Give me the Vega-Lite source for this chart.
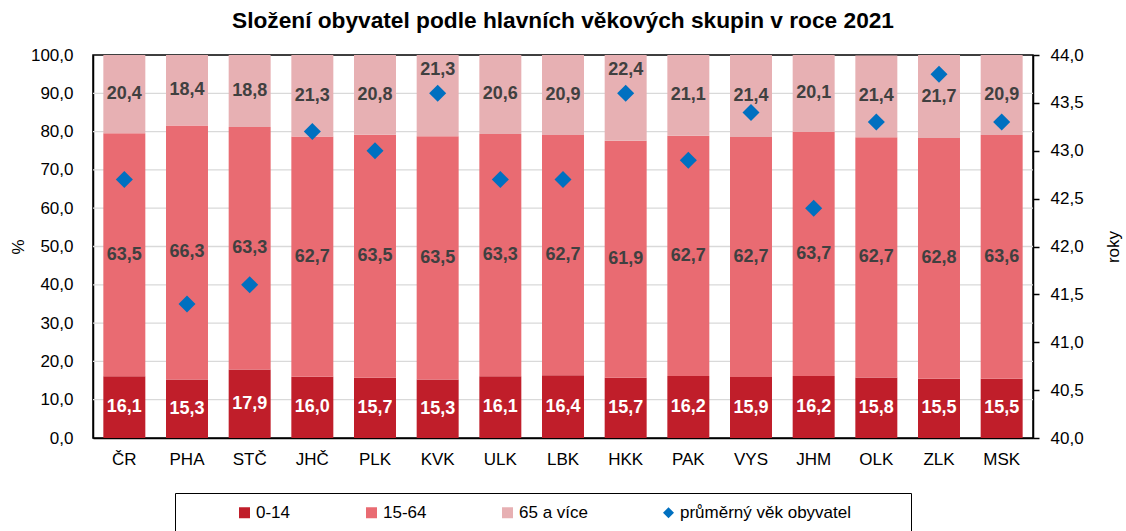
{
  "$schema": "https://vega.github.io/schema/vega-lite/v6.json",
  "width": 940,
  "height": 383,
  "autosize": {"type": "none"},
  "padding": {"left": 93, "top": 55, "right": 93, "bottom": 93},
  "background": "white",
  "config": {
    "font": "Liberation Sans",
    "view": {"stroke": "black", "strokeWidth": 1.5}
  },
  "title": {
    "text": "Složení obyvatel podle hlavních věkových skupin v roce 2021",
    "fontSize": 22.7,
    "fontWeight": "bold",
    "color": "black",
    "offset": 13,
    "anchor": "middle"
  },
  "datasets": {
    "shares": [
      {"region": "ČR", "group": "0-14", "value": 16.1}, {"region": "ČR", "group": "15-64", "value": 63.5}, {"region": "ČR", "group": "65 a více", "value": 20.4},
      {"region": "PHA", "group": "0-14", "value": 15.3}, {"region": "PHA", "group": "15-64", "value": 66.3}, {"region": "PHA", "group": "65 a více", "value": 18.4},
      {"region": "STČ", "group": "0-14", "value": 17.9}, {"region": "STČ", "group": "15-64", "value": 63.3}, {"region": "STČ", "group": "65 a více", "value": 18.8},
      {"region": "JHČ", "group": "0-14", "value": 16.0}, {"region": "JHČ", "group": "15-64", "value": 62.7}, {"region": "JHČ", "group": "65 a více", "value": 21.3},
      {"region": "PLK", "group": "0-14", "value": 15.7}, {"region": "PLK", "group": "15-64", "value": 63.5}, {"region": "PLK", "group": "65 a více", "value": 20.8},
      {"region": "KVK", "group": "0-14", "value": 15.3}, {"region": "KVK", "group": "15-64", "value": 63.5}, {"region": "KVK", "group": "65 a více", "value": 21.3},
      {"region": "ULK", "group": "0-14", "value": 16.1}, {"region": "ULK", "group": "15-64", "value": 63.3}, {"region": "ULK", "group": "65 a více", "value": 20.6},
      {"region": "LBK", "group": "0-14", "value": 16.4}, {"region": "LBK", "group": "15-64", "value": 62.7}, {"region": "LBK", "group": "65 a více", "value": 20.9},
      {"region": "HKK", "group": "0-14", "value": 15.7}, {"region": "HKK", "group": "15-64", "value": 61.9}, {"region": "HKK", "group": "65 a více", "value": 22.4},
      {"region": "PAK", "group": "0-14", "value": 16.2}, {"region": "PAK", "group": "15-64", "value": 62.7}, {"region": "PAK", "group": "65 a více", "value": 21.1},
      {"region": "VYS", "group": "0-14", "value": 15.9}, {"region": "VYS", "group": "15-64", "value": 62.7}, {"region": "VYS", "group": "65 a více", "value": 21.4},
      {"region": "JHM", "group": "0-14", "value": 16.2}, {"region": "JHM", "group": "15-64", "value": 63.7}, {"region": "JHM", "group": "65 a více", "value": 20.1},
      {"region": "OLK", "group": "0-14", "value": 15.8}, {"region": "OLK", "group": "15-64", "value": 62.7}, {"region": "OLK", "group": "65 a více", "value": 21.4},
      {"region": "ZLK", "group": "0-14", "value": 15.5}, {"region": "ZLK", "group": "15-64", "value": 62.8}, {"region": "ZLK", "group": "65 a více", "value": 21.7},
      {"region": "MSK", "group": "0-14", "value": 15.5}, {"region": "MSK", "group": "15-64", "value": 63.6}, {"region": "MSK", "group": "65 a více", "value": 20.9}
    ],
    "age": [
      {"region": "ČR", "age": 42.7},
      {"region": "PHA", "age": 41.4},
      {"region": "STČ", "age": 41.6},
      {"region": "JHČ", "age": 43.2},
      {"region": "PLK", "age": 43.0},
      {"region": "KVK", "age": 43.6},
      {"region": "ULK", "age": 42.7},
      {"region": "LBK", "age": 42.7},
      {"region": "HKK", "age": 43.6},
      {"region": "PAK", "age": 42.9},
      {"region": "VYS", "age": 43.4},
      {"region": "JHM", "age": 42.4},
      {"region": "OLK", "age": 43.3},
      {"region": "ZLK", "age": 43.8},
      {"region": "MSK", "age": 43.3}
    ],
    "grid": [
      {"tick": 10}, {"tick": 20}, {"tick": 30}, {"tick": 40}, {"tick": 50},
      {"tick": 60}, {"tick": 70}, {"tick": 80}, {"tick": 90}
    ]
  },
  "layer": [
    {
      "layer": [
        {
          "data": {"name": "grid"},
          "mark": {"type": "rule", "color": "#d9d9d9", "strokeWidth": 1.3},
          "encoding": {
            "y": {
              "field": "tick", "type": "quantitative",
              "scale": {"domain": [0, 100], "nice": false},
              "axis": {
                "title": "%", "titleX": -75, "titleY": 191.5, "titleAngle": -90, "titleBaseline": "middle",
                "titleFontSize": 17, "titleFontWeight": "normal", "titleColor": "black",
                "values": [0,10,20,30,40,50,60,70,80,90,100],
                "labelExpr": "replace(format(datum.value,'.1f'),'.',',')",
                "labelFontSize": 17, "labelColor": "black", "labelPadding": 20,
                "ticks": false, "domainColor": "black", "domainWidth": 1.5, "grid": false
              }
            }
          }
        },
        {
          "data": {"name": "shares"},
          "mark": {"type": "bar"},
          "encoding": {
            "x": {
              "field": "region", "type": "nominal",
              "scale": {"domain": ["ČR","PHA","STČ","JHČ","PLK","KVK","ULK","LBK","HKK","PAK","VYS","JHM","OLK","ZLK","MSK"], "paddingInner": 0.33, "paddingOuter": 0.165},
              "axis": {"title": null, "labelAngle": 0, "labelFontSize": 17, "labelColor": "black", "labelPadding": 13, "ticks": false, "domainColor": "black", "domainWidth": 1.5}
            },
            "y": {
              "field": "value", "type": "quantitative", "stack": "zero",
              "scale": {"domain": [0, 100], "nice": false, "clamp": true},
              "axis": {
                "title": "%", "titleX": -75, "titleY": 191.5, "titleAngle": -90, "titleBaseline": "middle",
                "titleFontSize": 17, "titleFontWeight": "normal", "titleColor": "black",
                "values": [0,10,20,30,40,50,60,70,80,90,100],
                "labelExpr": "replace(format(datum.value,'.1f'),'.',',')",
                "labelFontSize": 17, "labelColor": "black", "labelPadding": 20,
                "ticks": false, "domainColor": "black", "domainWidth": 1.5, "grid": false
              }
            },
            "order": {"field": "group", "type": "nominal", "sort": "ascending"},
            "color": {
              "field": "group", "type": "nominal",
              "scale": {"domain": ["0-14","15-64","65 a více","průměrný věk obyvatel"], "range": ["#C01E2A","#E96B72","#E7B0B3","#0070C0"]},
              "legend": {
                "orient": "none", "legendX": 82, "legendY": 438, "direction": "horizontal", "columns": 4,
                "columnPadding": 72, "padding": 11, "strokeColor": "black",
                "symbolSize": 121, "symbolStrokeWidth": 0, "labelFontSize": 17, "labelColor": "black",
                "labelLimit": 600, "labelOffset": 3, "title": "\u00a0", "titleOrient": "left", "titlePadding": 50,
                "labelExpr": "datum.label=='průměrný věk obyvatel' ? datum.label+'\u2800\u2800\u2800\u2800' : datum.label"
              }
            }
          }
        },
        {
          "data": {"name": "shares"},
          "transform": [
            {"stack": "value", "groupby": ["region"], "sort": [{"field": "group", "order": "ascending"}], "as": ["v0", "v1"]},
            {"lookup": "region", "from": {"data": {"name": "age"}, "key": "region", "fields": ["age"]}},
            {"calculate": "(datum.v0+datum.v1)/2", "as": "mid"},
            {"calculate": "(datum.age-40)*25", "as": "ageY"},
            {"calculate": "datum.group=='65 a více' && abs(datum.ageY-datum.mid)<4 ? (datum.ageY+6<=98 ? datum.ageY+6 : datum.ageY-6) : datum.mid", "as": "labelY"},
            {"calculate": "replace(format(datum.value,'.1f'),'.',',')", "as": "label"}
          ],
          "mark": {"type": "text", "fontWeight": "bold", "fontSize": 18, "baseline": "middle"},
          "encoding": {
            "x": {"field": "region", "type": "nominal"},
            "y": {
              "field": "labelY", "type": "quantitative",
              "axis": {
                "title": "%", "titleX": -75, "titleY": 191.5, "titleAngle": -90, "titleBaseline": "middle",
                "titleFontSize": 17, "titleFontWeight": "normal", "titleColor": "black",
                "values": [0,10,20,30,40,50,60,70,80,90,100],
                "labelExpr": "replace(format(datum.value,'.1f'),'.',',')",
                "labelFontSize": 17, "labelColor": "black", "labelPadding": 20,
                "ticks": false, "domainColor": "black", "domainWidth": 1.5, "grid": false
              }
            },
            "text": {"field": "label", "type": "nominal"},
            "color": {"condition": {"test": "datum.group=='0-14'", "value": "white"}, "value": "#404040"}
          }
        }
      ]
    },
    {
      "data": {"name": "age"},
      "transform": [{"calculate": "'průměrný věk obyvatel'", "as": "series"}],
      "mark": {"type": "point", "filled": true, "size": 290, "opacity": 1},
      "encoding": {
        "x": {"field": "region", "type": "nominal"},
        "y": {
          "field": "age", "type": "quantitative",
          "scale": {"domain": [40, 44], "nice": false},
          "axis": {
            "orient": "right", "title": "roky", "titleX": 80, "titleY": 191.5, "titleAngle": -90, "titleBaseline": "middle",
            "titleFontSize": 17, "titleFontWeight": "normal", "titleColor": "black",
            "values": [40,40.5,41,41.5,42,42.5,43,43.5,44],
            "labelExpr": "replace(format(datum.value,'.1f'),'.',',')",
            "labelFontSize": 17, "labelColor": "black", "labelPadding": 11,
            "ticks": true, "tickSize": 6, "tickColor": "black", "tickWidth": 1.5,
            "domainColor": "black", "domainWidth": 1.5, "grid": false
          }
        },
        "color": {"field": "series", "type": "nominal"},
        "shape": {
          "field": "series", "type": "nominal",
          "scale": {"domain": ["0-14","15-64","65 a více","průměrný věk obyvatel"], "range": ["square","square","square","diamond"]},
          "legend": {
            "orient": "none", "legendX": 82, "legendY": 438, "direction": "horizontal", "columns": 4,
            "columnPadding": 72, "padding": 11, "strokeColor": "black",
            "symbolSize": 121, "symbolStrokeWidth": 0, "labelFontSize": 17, "labelColor": "black",
            "labelLimit": 600, "labelOffset": 3, "title": "\u00a0", "titleOrient": "left", "titlePadding": 50,
            "labelExpr": "datum.label=='průměrný věk obyvatel' ? datum.label+'\u2800\u2800\u2800\u2800' : datum.label"
          }
        }
      }
    }
  ],
  "resolve": {"scale": {"y": "independent"}}
}
